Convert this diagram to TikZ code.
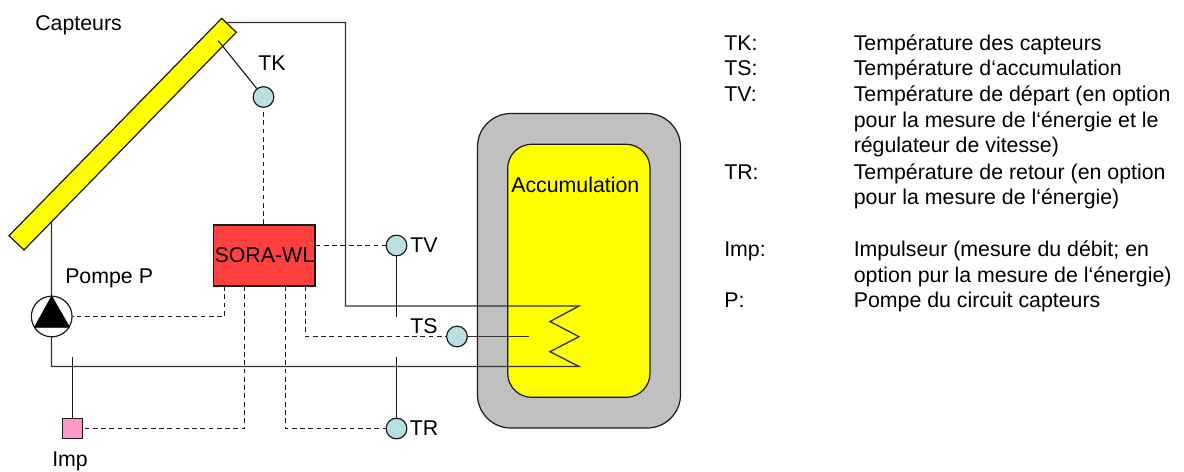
\documentclass[tikz,border=0pt]{standalone}
\usepackage{fontspec}
\setmainfont{Liberation Sans}
\definecolor{sensor}{HTML}{BBE0E3}
\definecolor{ctrl}{HTML}{FF4040}
\definecolor{imp}{HTML}{FF99CC}
\definecolor{shell}{HTML}{C0C0C0}
\definecolor{ln}{HTML}{333333}
\definecolor{fillY}{HTML}{FFFF00}
\definecolor{edge}{HTML}{1A1A1A}
\tikzset{
 pipe/.style={draw=ln,line width=1pt},
 sig/.style={draw=edge,line width=0.85pt,dash pattern=on 3.6pt off 2.6pt},
 thinl/.style={draw=edge,line width=0.85pt},
 outl/.style={draw=edge,line width=0.9pt},
 sensorc/.style={circle,outl,fill=sensor,minimum size=15.5pt,inner sep=0pt},
 lab/.style={inner sep=0pt,font=\fontsize{16pt}{19pt}\selectfont,anchor=base west},
}
\begin{document}
\begin{tikzpicture}[x=0.75pt,y=-0.75pt]
\useasboundingbox (0,0) rectangle (1184,471);
\fill[white] (0,0) rectangle (1184,471);
% tank
\filldraw[fill=shell,outl,rounded corners=25pt] (477.5,113.5) rectangle (680.5,428);
\filldraw[fill=fillY,outl,rounded corners=18pt] (507.7,144.3) rectangle (650,397.3);
% pipes
\coordinate (colTop) at (227,22.5);
\coordinate (r1) at (345.5,22.5);
\coordinate (r2) at (345.5,306);
\coordinate (c1) at (579,306);
\coordinate (c2) at (550,321.5);
\coordinate (c3) at (579,336.7);
\coordinate (c4) at (550,351.7);
\coordinate (c5) at (579,366.5);
\coordinate (l1) at (51.5,366.5);
\coordinate (l0) at (51.5,218);
\draw[pipe] (colTop) -- (r1) -- (r2) -- (c1) -- (c2) -- (c3) -- (c4) -- (c5) -- (l1) -- (l0);
% collector
\filldraw[fill=fillY,outl] (9,235.7) -- (221.7,18.3) -- (236.3,32.3) -- (24,250) -- cycle;
% pump
\node[circle,outl,fill=white,minimum size=30.5pt,inner sep=0pt] (pump) at (51.7,316.5) {};
\filldraw[black] (51.7,296) -- (69.7,327.3) -- (34.3,327.3) -- cycle;
% controller
\node[outl,fill=ctrl,minimum width=76pt,minimum height=45.7pt,inner sep=0pt,font=\fontsize{16pt}{19pt}\selectfont] (sora) at (264.4,255.5) {SORA-WL};
% sensors
\node[sensorc] (tk) at (263.5,97) {};
\node[sensorc] (tv) at (396.5,245.5) {};
\node[sensorc] (ts) at (457,336.5) {};
\node[sensorc] (tr) at (396.5,428.5) {};
\node[outl,fill=imp,minimum size=15.2pt,inner sep=0pt] (impb) at (72.5,428.5) {};
% thin connectors
\coordinate (tkEnd) at (218.3,40.7);
\coordinate (tvEnd) at (396.5,316.7);
\coordinate (trEnd) at (396.5,356.7);
\coordinate (tsEnd) at (528.7,336.5);
\coordinate (impEnd) at (72.5,356.7);
\draw[thinl] (tkEnd) -- (tk);
\draw[thinl] (tv) -- (tvEnd);
\draw[thinl] (tr) -- (trEnd);
\draw[pipe] (ts) -- (tsEnd);
\draw[thinl] (impb) -- (impEnd);
% dashed
\coordinate (sA) at (224.5,286);
\coordinate (sB) at (244.5,286);
\coordinate (sC) at (285.5,286);
\coordinate (sD) at (305.5,286);
\coordinate (tkS) at (263.5,112);
\coordinate (tkE) at (263.5,225);
\draw[sig] (tkS) -- (tkE);
\draw[sig] (sora.east |- tv) -- (tv);
\draw[sig] (sD) -- (sD |- ts) -- (ts);
\draw[sig] (sC) -- (sC |- tr) -- (tr);
\draw[sig] (sB) -- (sB |- impb) -- (impb);
\draw[sig] (sA) -- (sA |- pump) -- (pump);
% labels
\node[lab] (tc) at (35,30) {Capteurs};
\node[lab] (ltk) at (258,70.7) {TK};
\node[lab] (lp) at (65,283) {Pompe P};
\node[lab] (ltv) at (410,252.7) {TV};
\node[lab] (lts) at (410,333) {TS};
\node[lab] (ltr) at (409.5,435) {TR};
\node[lab] (li) at (52,466.7) {Imp};
\node[lab] (la) at (511,192.3) {Accumulation};
% legend
\node[lab] (k1) at (724,50.7) {TK:};
\node[lab] (v1) at (853.5,50.7) {Température des capteurs};
\node[lab] (k2) at (724,75.7) {TS:};
\node[lab] (v2) at (853.5,75.7) {Température d‘accumulation};
\node[lab] (k3) at (724,101.7) {TV:};
\node[lab] (v3) at (853.5,101.7) {Température de départ (en option};
\node[lab] (v3b) at (853.5,127.3) {pour la mesure de l‘énergie et le};
\node[lab] (v3c) at (853.5,152.7) {régulateur de vitesse)};
\node[lab] (k4) at (724,179) {TR:};
\node[lab] (v4) at (853.5,179) {Température de retour (en option};
\node[lab] (v4b) at (853.5,204.7) {pour la mesure de l‘énergie)};
\node[lab] (k5) at (724,256) {Imp:};
\node[lab] (v5) at (853.5,256) {Impulseur (mesure du débit; en};
\node[lab] (v5b) at (853.5,282) {option pur la mesure de l‘énergie)};
\node[lab] (k6) at (724,307.3) {P:};
\node[lab] (v6) at (853.5,307.3) {Pompe du circuit capteurs};
\end{tikzpicture}
\end{document}
